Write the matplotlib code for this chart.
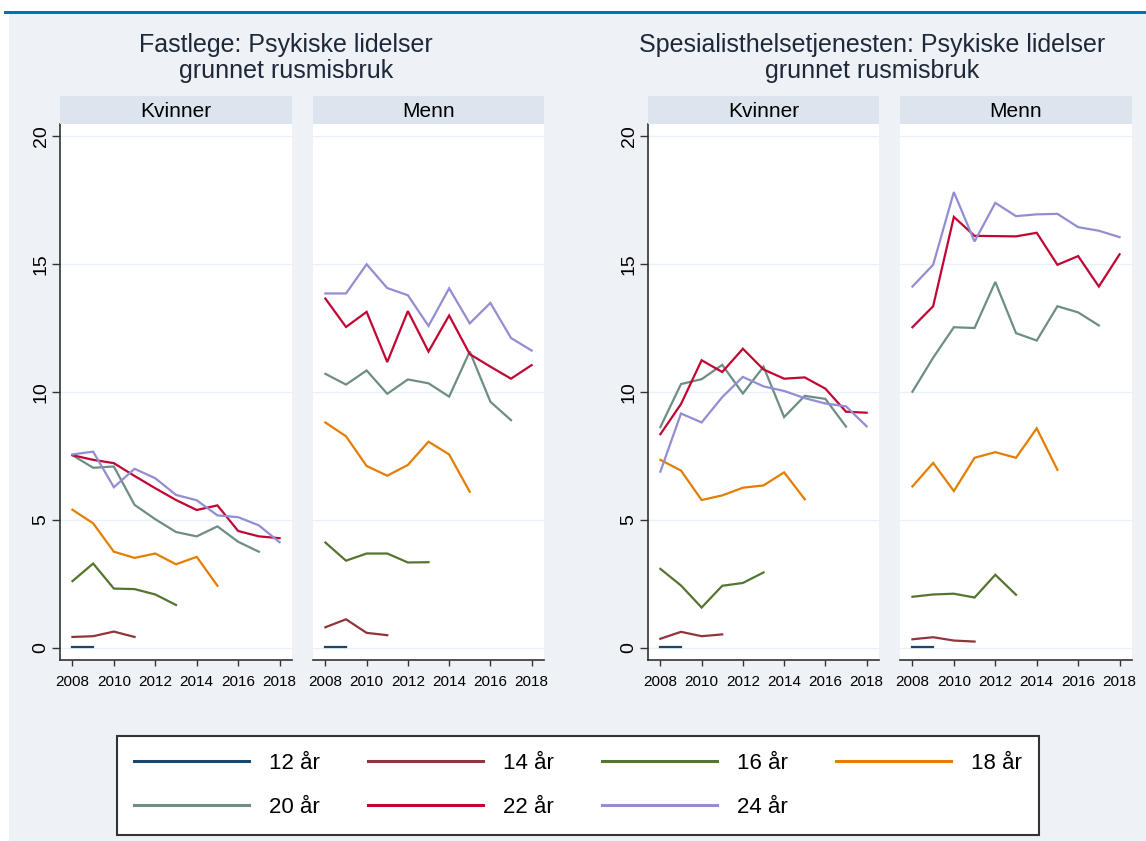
import matplotlib
matplotlib.use('Agg')
import matplotlib.pyplot as plt
from matplotlib.patches import Rectangle

plt.rcParams['font.family'] = ['Liberation Sans', 'DejaVu Sans']

# År på x-aksen
years = list(range(2008, 2019))

# Aldersgrupper og Stata s2color-farger
ages = ['12 år', '14 år', '16 år', '18 år', '20 år', '22 år', '24 år']
colors = ['#1A476F', '#90353B', '#55752F', '#E37E00', '#6E8E84', '#C10534', '#938DD2']

# Fastlege - Kvinner (per 1000)
fl_kvinner = {
    '12 år': [0.03, 0.03],
    '14 år': [0.43, 0.46, 0.64, 0.43],
    '16 år': [2.61, 3.30, 2.32, 2.30, 2.09, 1.68],
    '18 år': [5.40, 4.87, 3.76, 3.52, 3.69, 3.27, 3.56, 2.43],
    '20 år': [7.53, 7.04, 7.09, 5.59, 5.03, 4.53, 4.36, 4.75, 4.15, 3.76],
    '22 år': [7.53, 7.35, 7.22, 6.72, 6.24, 5.78, 5.39, 5.57, 4.57, 4.36, 4.29],
    '24 år': [7.56, 7.67, 6.28, 7.00, 6.63, 5.98, 5.77, 5.18, 5.11, 4.79, 4.13],
}

# Fastlege - Menn
fl_menn = {
    '12 år': [0.03, 0.03],
    '14 år': [0.81, 1.12, 0.59, 0.50],
    '16 år': [4.12, 3.41, 3.69, 3.69, 3.34, 3.35],
    '18 år': [8.81, 8.27, 7.11, 6.73, 7.15, 8.06, 7.56, 6.10],
    '20 år': [10.71, 10.29, 10.84, 9.93, 10.49, 10.34, 9.82, 11.58, 9.62, 8.90],
    '22 år': [13.65, 12.54, 13.13, 11.17, 13.16, 11.58, 12.99, 11.48, 10.99, 10.52, 11.05],
    '24 år': [13.85, 13.85, 14.99, 14.06, 13.78, 12.58, 14.05, 12.68, 13.48, 12.11, 11.62],
}

# Spesialisthelsetjenesten - Kvinner
sp_kvinner = {
    '12 år': [0.03, 0.03],
    '14 år': [0.36, 0.63, 0.46, 0.53],
    '16 år': [3.09, 2.44, 1.58, 2.43, 2.54, 2.95],
    '18 år': [7.35, 6.93, 5.78, 5.96, 6.26, 6.35, 6.86, 5.81],
    '20 år': [8.63, 10.31, 10.50, 11.06, 9.94, 10.99, 9.02, 9.85, 9.73, 8.65],
    '22 år': [8.35, 9.53, 11.24, 10.78, 11.69, 10.88, 10.52, 10.57, 10.13, 9.23, 9.19],
    '24 år': [6.89, 9.16, 8.81, 9.80, 10.59, 10.22, 10.04, 9.76, 9.55, 9.44, 8.66],
}

# Spesialisthelsetjenesten - Menn
sp_menn = {
    '12 år': [0.03, 0.03],
    '14 år': [0.34, 0.42, 0.29, 0.25],
    '16 år': [2.00, 2.09, 2.12, 1.97, 2.86, 2.08],
    '18 år': [6.31, 7.23, 6.13, 7.43, 7.65, 7.43, 8.58, 6.96],
    '20 år': [10.01, 11.34, 12.53, 12.50, 14.30, 12.30, 12.01, 13.35, 13.11, 12.60],
    '22 år': [12.53, 13.35, 16.84, 16.10, 16.09, 16.08, 16.22, 14.97, 15.31, 14.12, 15.38],
    '24 år': [14.12, 14.97, 17.81, 15.88, 17.39, 16.87, 16.94, 16.96, 16.44, 16.30, 16.05],
}

titles = ['Fastlege: Psykiske lidelser\ngrunnet rusmisbruk',
          'Spesialisthelsetjenesten: Psykiske lidelser\ngrunnet rusmisbruk']

W, H = 1146, 841
BG = '#EEF2F7'
STRIP = '#DCE5EE'
AXCOL = '#333333'

fig = plt.figure(figsize=(W / 100, H / 100), dpi=100)
fig.patch.set_facecolor('white')

# bakgrunn og blå linje øverst
fig.add_artist(Rectangle((9 / W, 0), 1 - 9 / W, 1 - 14 / H, transform=fig.transFigure,
                         facecolor=BG, edgecolor='none', zorder=0))
fig.add_artist(Rectangle((4 / W, 1 - 14 / H), 1 - 4 / W, 3 / H, transform=fig.transFigure,
                         facecolor='#0070B8', edgecolor='none', zorder=0))


def px_rect(x0, y0, x1, y1):
    return [x0 / W, 1 - y1 / H, (x1 - x0) / W, (y1 - y0) / H]


panels = [
    (fl_kvinner, 'Kvinner', 60, 292, True),
    (fl_menn, 'Menn', 313, 544, False),
    (sp_kvinner, 'Kvinner', 648, 879, True),
    (sp_menn, 'Menn', 900, 1132, False),
]

lines = {}
for data, sex, x0, x1, first in panels:
    ax = fig.add_axes(px_rect(x0, 124, x1, 660))
    ax.set_facecolor('white')
    for age, col in zip(ages, colors):
        vals = data[age]
        ln, = ax.plot(years[:len(vals)], vals, color=col, lw=1.6, label=age,
                      solid_joinstyle='miter', zorder=3)
        lines.setdefault(age, ln)
    ax.set_xlim(2007.4, 2018.6)
    ax.set_ylim(-0.47, 20.47)
    ax.set_xticks(range(2008, 2019, 2))
    ax.set_yticks([0, 5, 10, 15, 20])
    ax.grid(axis='y', color='#EAF0F7', lw=1.0, zorder=1)
    for s in ['top', 'right']:
        ax.spines[s].set_visible(False)
    ax.spines['bottom'].set_color(AXCOL)
    ax.spines['bottom'].set_linewidth(1.2)
    ax.tick_params(axis='x', direction='out', length=4.5, width=1.0, color=AXCOL,
                   labelsize=11, pad=6, labelcolor='black')
    if first:
        ax.spines['left'].set_color(AXCOL)
        ax.spines['left'].set_linewidth(1.2)
        ax.tick_params(axis='y', direction='out', length=6, width=1.0, color=AXCOL,
                       labelsize=14, pad=1.5, labelcolor='black')
        for lab in ax.get_yticklabels():
            lab.set_rotation(90)
            lab.set_va('center')
    else:
        ax.spines['left'].set_visible(False)
        ax.tick_params(axis='y', left=False, labelleft=False)

    # stripe med kjønn
    sax = fig.add_axes(px_rect(x0, 96, x1, 124))
    sax.set_facecolor(STRIP)
    sax.set_xticks([])
    sax.set_yticks([])
    for s in sax.spines.values():
        s.set_visible(False)
    sax.text(0.5, 0.45, sex, ha='center', va='center', fontsize=15, color='black',
             transform=sax.transAxes)

# titler
fig.text(286 / W, 1 - 58 / H, titles[0], ha='center', va='center', fontsize=18,
         color='#1E2838', linespacing=1.12)
fig.text(872 / W, 1 - 58 / H, titles[1], ha='center', va='center', fontsize=18,
         color='#1E2838', linespacing=1.12)

# legende (radvis rekkefølge: matplotlib fyller kolonnevis)
order = ['12 år', '20 år', '14 år', '22 år', '16 år', '24 år', '18 år']
leg = fig.legend(handles=[lines[a] for a in order], labels=order, ncol=4, loc='center',
                 bbox_to_anchor=(117 / W, 1 - 835 / H, 922 / W, 99 / H),
                 mode='expand', fontsize=16, frameon=True, fancybox=False,
                 handlelength=5.2, handletextpad=0.9, columnspacing=2.0,
                 labelspacing=1.05, borderpad=0.75, borderaxespad=0)
frame = leg.get_frame()
frame.set_edgecolor(AXCOL)
frame.set_linewidth(1.5)
frame.set_facecolor('white')
frame.set_alpha(1)
for h in leg.get_lines():
    h.set_linewidth(2.2)

fig.savefig('out.png', dpi=100)
